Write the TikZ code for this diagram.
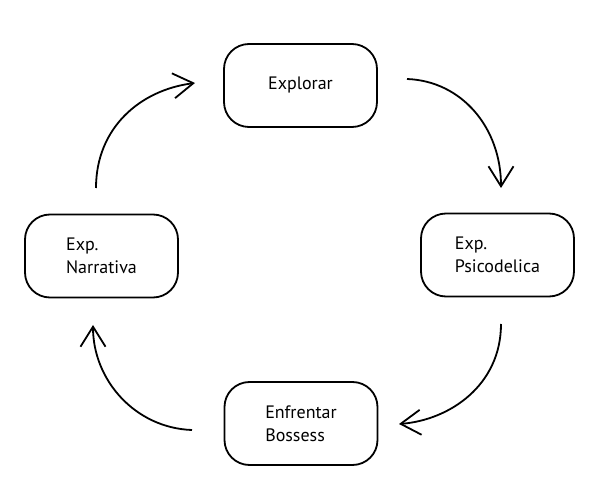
\documentclass[tikz,border=0pt]{standalone}
\usepackage{fontspec}
\setmainfont{PT Sans}
\usetikzlibrary{arrows.meta}
\begin{document}
\begin{tikzpicture}[x=1pt,y=-1pt,
  stagebox/.style={draw, line width=1.8pt, rounded corners=25pt,
    minimum width=153pt, minimum height=83pt, align=left, inner sep=0pt,
    font=\fontsize{18}{23}\selectfont},
  cyclearrow/.style={line width=1.8pt, -{Straight Barb[length=20pt,width=25pt,line width=1.8pt]}}]
\useasboundingbox (0,0) rectangle (598,492);
\node[stagebox] (explorar) at (300.5,85.5) {Explorar};
\node[stagebox] (narrativa) at (101.5,256) {Exp.\\Narrativa};
\node[stagebox] (psico) at (497.5,255) {Exp.\\Psicodelica};
\node[stagebox] (boss) at (301,423.5) {Enfrentar\\Bossess};
\coordinate (a1s) at (96,188);
\coordinate (a1e) at (195,83);
\coordinate (a2s) at (407,79);
\coordinate (a2e) at (501,188);
\coordinate (a3s) at (501,324);
\coordinate (a3e) at (399,424);
\coordinate (a4s) at (192,430);
\coordinate (a4e) at (93,325);
\draw[cyclearrow] (a1s) .. controls (96,128) and (140,90) .. (a1e);
\draw[cyclearrow] (a2s) .. controls (462,81) and (501,128) .. (a2e);
\draw[cyclearrow] (a3s) .. controls (501,385) and (450,420) .. (a3e);
\draw[cyclearrow] (a4s) .. controls (135,428) and (93,380) .. (a4e);
\end{tikzpicture}
\end{document}
